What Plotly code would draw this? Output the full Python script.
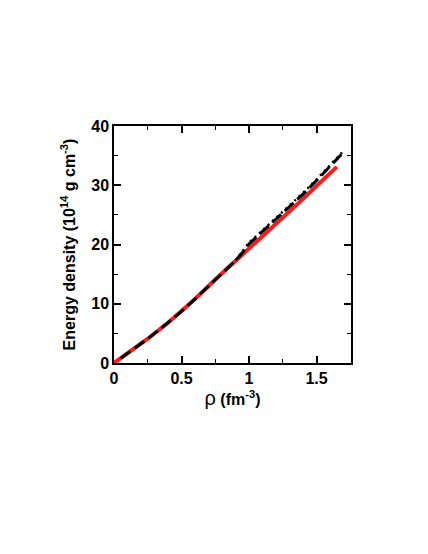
import plotly.graph_objects as go

# ── Dados ─────────────────────────────────────────────────────────────────────
rho_red = [0.0, 0.1, 0.25, 0.4, 0.5, 0.6, 0.75, 0.9, 1.0, 1.1, 1.25, 1.4, 1.5, 1.65]
eps_red = [0.0, 1.6, 4.1, 6.8, 8.7, 10.8, 14.1, 17.2, 19.3, 21.4, 24.5, 27.7, 29.9, 33.1]

rho_dash = [0.05, 0.1, 0.25, 0.4, 0.5, 0.6, 0.75, 0.9, 0.95, 1.0, 1.1, 1.25, 1.4, 1.5, 1.6, 1.7]
eps_dash = [0.8, 1.6, 4.1, 6.8, 8.7, 10.8, 14.1, 17.3, 18.6, 20.1, 22.2, 25.3, 28.5, 30.8, 33.2, 35.6]

rho_dot = [0.9, 0.95, 1.0, 1.1, 1.25, 1.4, 1.5, 1.6, 1.68, 1.7]
eps_dot = [17.3, 18.8, 20.3, 22.4, 25.5, 28.7, 31.0, 33.4, 35.3, 36.0]

x_ticks = [0, 0.5, 1, 1.5]
x_labels = ["0", "0.5", "1", "1.5"]
y_ticks = [0, 10, 20, 30, 40]

FAMILIA = "Liberation Sans, Arial, sans-serif"

fig = go.Figure()
fig.add_trace(go.Scatter(x=rho_red, y=eps_red, mode="lines",
                         line=dict(color="#ff1a1a", width=4)))
fig.add_trace(go.Scatter(x=rho_dot, y=eps_dot, mode="lines",
                         line=dict(color="black", width=2.5, dash="2px,4px")))
fig.add_trace(go.Scatter(x=rho_dash, y=eps_dash, mode="lines",
                         line=dict(color="black", width=3, dash="12px,5px")))

eixo = dict(showline=True, linecolor="black", linewidth=1.5, mirror="ticks",
            ticks="inside", ticklen=7, tickwidth=1.5, tickcolor="black",
            showgrid=False, zeroline=False, automargin=False,
            tickfont=dict(family=FAMILIA, size=16, color="black", weight="bold"))

fig.update_xaxes(eixo, range=[0, 1.755], tickvals=x_ticks, ticktext=x_labels,
                 minor=dict(ticks="inside", ticklen=4, tickwidth=1.2, tickcolor="black", dtick=0.25),
                 title=dict(text="<span style='font-size:20px'>ρ</span> <b>(fm<sup>-3</sup>)</b>",
                            font=dict(family=FAMILIA, size=16, color="black"), standoff=6))
fig.update_yaxes(eixo, range=[0, 40], tickvals=y_ticks,
                 minor=dict(ticks="inside", ticklen=4, tickwidth=1.2, tickcolor="black", dtick=5),
                 title=dict(text="<b>Energy density (10<sup>14</sup> g cm<sup>-3</sup>)</b>",
                            font=dict(family=FAMILIA, size=16, color="black"), standoff=12))

# a página tem 8px de margem no body: compensar
fig.update_layout(width=428, height=554, showlegend=False,
                  margin=dict(l=106, r=85, t=118, b=199),
                  paper_bgcolor="white", plot_bgcolor="white",
                  font=dict(family=FAMILIA, size=16, color="black"))

fig.write_html("out.html")
